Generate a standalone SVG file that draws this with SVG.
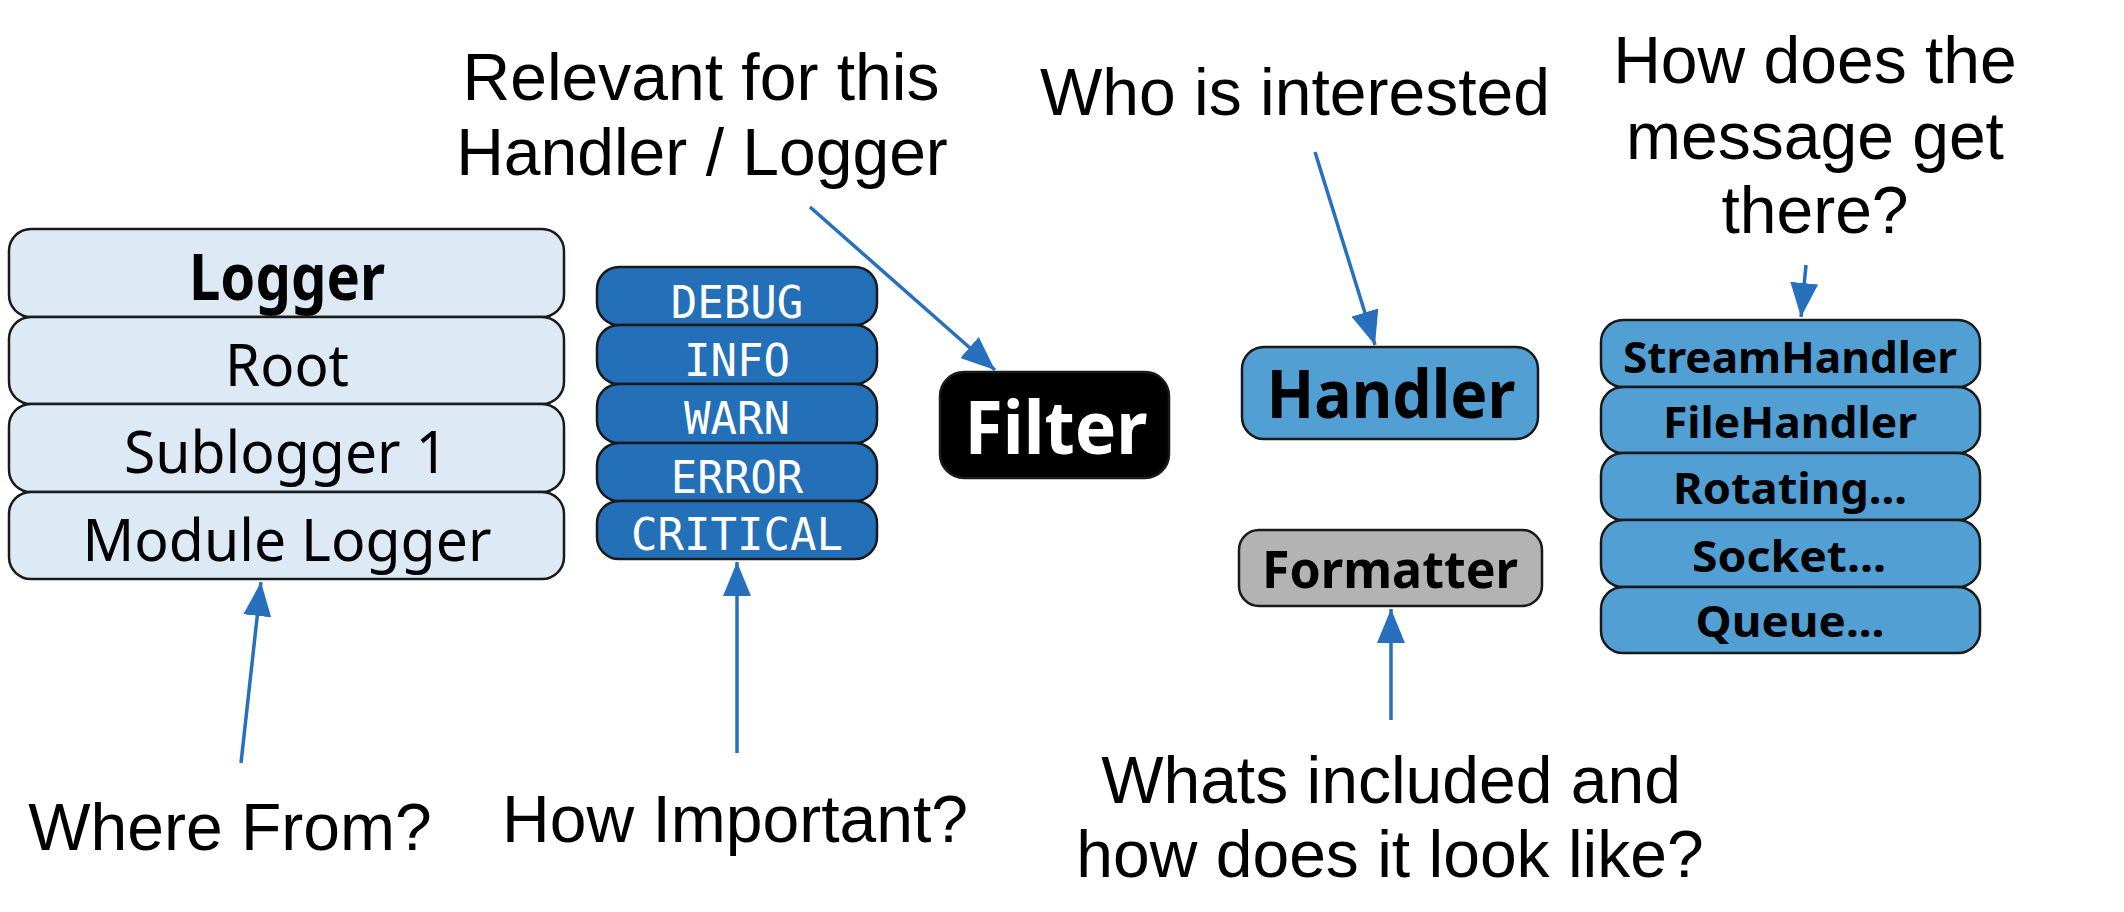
<svg xmlns="http://www.w3.org/2000/svg" width="2124" height="912" viewBox="0 0 2124 912">
<defs>
<marker id="ah" markerUnits="userSpaceOnUse" markerWidth="36" markerHeight="28" refX="34" refY="14" orient="auto">
<path d="M0,0 L34,14 L0,28 Z" fill="#2670bd"/>
</marker>
<style>
.box{stroke:#1a1a1a;stroke-width:2.5}
.lg{fill:#ddeaf6}
.lv{fill:#2470b8}
.hd{fill:#529fd4}
.fm{fill:#b3b3b3}
.fl{fill:#000}
.bt{font-family:"Noto Sans","Liberation Sans",sans-serif;text-anchor:middle;fill:#000}
.b{font-weight:bold}
.mono{font-family:"DejaVu Sans Mono","Liberation Mono",monospace;font-size:44px;fill:#fff;text-anchor:middle}
.lbl{font-family:"Liberation Sans",Arial,sans-serif;font-size:66px;fill:#000;text-anchor:middle}
.conn{stroke:#2670bd;stroke-width:3.5;fill:none;marker-end:url(#ah)}
</style>
</defs>
<rect width="2124" height="912" fill="#fff"/>

<g id="logger-stack">
<rect class="box lg" x="9" y="229" width="555" height="88" rx="22"/>
<text class="bt b" x="287" y="300" font-size="64" textLength="196" lengthAdjust="spacingAndGlyphs">Logger</text>
<rect class="box lg" x="9" y="317" width="555" height="87" rx="22"/>
<text class="bt" x="287" y="386" font-size="59" textLength="124" lengthAdjust="spacingAndGlyphs">Root</text>
<rect class="box lg" x="9" y="404" width="555" height="88" rx="22"/>
<text class="bt" x="286" y="473" font-size="59" textLength="324" lengthAdjust="spacingAndGlyphs">Sublogger 1</text>
<rect class="box lg" x="9" y="492" width="555" height="87" rx="22"/>
<text class="bt" x="287" y="561" font-size="59" textLength="409" lengthAdjust="spacingAndGlyphs">Module Logger</text>
</g>

<g id="levels-stack">
<rect class="box lv" x="597" y="267" width="280" height="58" rx="22"/>
<text class="mono" x="737" y="318">DEBUG</text>
<rect class="box lv" x="597" y="325" width="280" height="59" rx="22"/>
<text class="mono" x="737" y="376">INFO</text>
<rect class="box lv" x="597" y="384" width="280" height="59" rx="22"/>
<text class="mono" x="737" y="434">WARN</text>
<rect class="box lv" x="597" y="443" width="280" height="58" rx="22"/>
<text class="mono" x="737" y="493">ERROR</text>
<rect class="box lv" x="597" y="501" width="280" height="58" rx="22"/>
<text class="mono" x="737" y="550">CRITICAL</text>
</g>

<g id="filter">
<rect class="box fl" x="940" y="372" width="229" height="106" rx="24"/>
<text class="bt b" x="1056" y="454" font-size="73" fill="#fff" style="fill:#fff" textLength="183" lengthAdjust="spacingAndGlyphs">Filter</text>
</g>

<g id="handler">
<rect class="box hd" x="1242" y="347" width="296" height="92" rx="22"/>
<text class="bt b" x="1391" y="418" font-size="67" textLength="249" lengthAdjust="spacingAndGlyphs">Handler</text>
</g>

<g id="formatter">
<rect class="box fm" x="1239" y="530" width="303" height="76" rx="20"/>
<text class="bt b" x="1390" y="588" font-size="52" textLength="256" lengthAdjust="spacingAndGlyphs">Formatter</text>
</g>

<g id="handler-types">
<rect class="box hd" x="1601" y="320" width="379" height="67" rx="22"/>
<text class="bt b" x="1790" y="373" font-size="43" textLength="334" lengthAdjust="spacingAndGlyphs">StreamHandler</text>
<rect class="box hd" x="1601" y="387" width="379" height="66" rx="22"/>
<text class="bt b" x="1790" y="438" font-size="43" textLength="254" lengthAdjust="spacingAndGlyphs">FileHandler</text>
<rect class="box hd" x="1601" y="453" width="379" height="67" rx="22"/>
<text class="bt b" x="1790" y="504" font-size="43" textLength="234" lengthAdjust="spacingAndGlyphs">Rotating...</text>
<rect class="box hd" x="1601" y="520" width="379" height="67" rx="22"/>
<text class="bt b" x="1789" y="572" font-size="43" textLength="194" lengthAdjust="spacingAndGlyphs">Socket...</text>
<rect class="box hd" x="1601" y="587" width="379" height="66" rx="22"/>
<text class="bt b" x="1790" y="637" font-size="43" textLength="189" lengthAdjust="spacingAndGlyphs">Queue...</text>
</g>

<g id="labels">
<text class="lbl" x="701" y="100">Relevant for this</text>
<text class="lbl" x="702" y="175">Handler / Logger</text>
<text class="lbl" x="1295" y="115">Who is interested</text>
<text class="lbl" x="1815" y="83">How does the</text>
<text class="lbl" x="1815" y="159">message get</text>
<text class="lbl" x="1815" y="233">there?</text>
<text class="lbl" x="230" y="850">Where From?</text>
<text class="lbl" x="735" y="842">How Important?</text>
<text class="lbl" x="1391" y="803">Whats included and</text>
<text class="lbl" x="1390" y="877">how does it look like?</text>
</g>

<g id="connectors">
<line class="conn" x1="241" y1="763" x2="261" y2="582"/>
<line class="conn" x1="737" y1="753" x2="737" y2="562"/>
<line class="conn" x1="810" y1="207" x2="995" y2="370"/>
<line class="conn" x1="1315" y1="152" x2="1375" y2="345"/>
<line class="conn" x1="1806" y1="265" x2="1801" y2="317"/>
<line class="conn" x1="1391" y1="720" x2="1391" y2="609"/>
</g>
</svg>
